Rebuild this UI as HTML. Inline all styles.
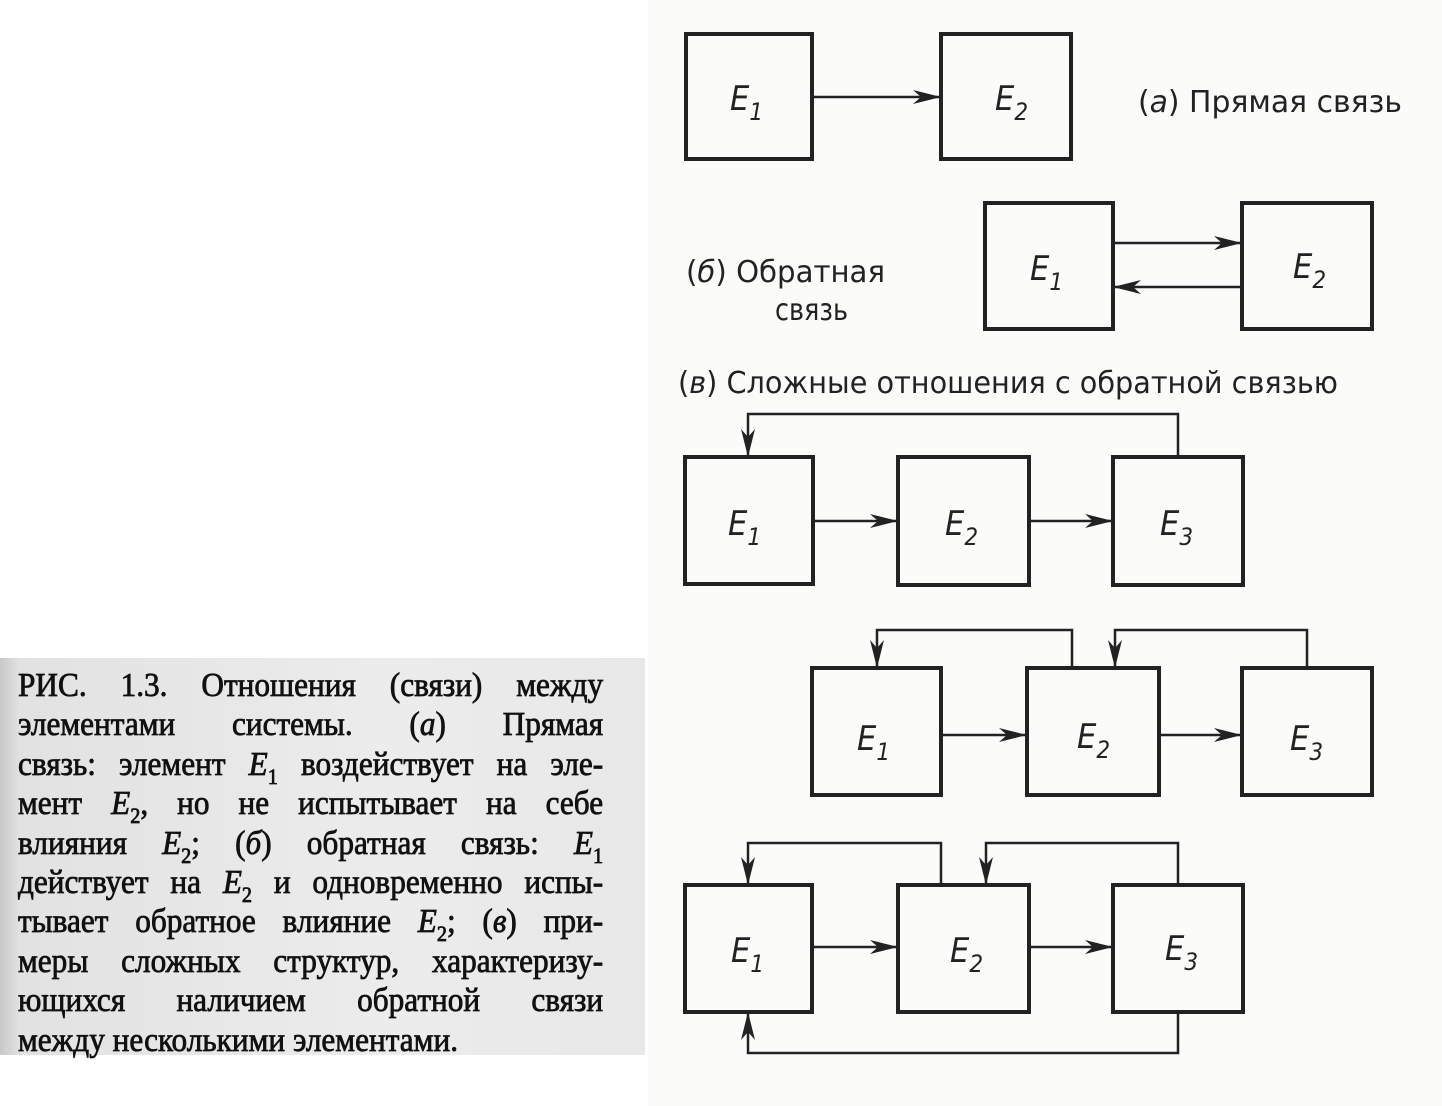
<!DOCTYPE html>
<html><head><meta charset="utf-8">
<style>
body{margin:0;width:1442px;height:1106px;background:#fbfbfa;overflow:hidden;position:relative;font-family:"Liberation Serif",serif}
.left{position:absolute;left:0;top:0;width:648px;height:1106px;background:#fff}
.cap{position:absolute;left:0;top:658px;width:645px;height:397px;background:linear-gradient(90deg,#c8c8c8 0,#e2e2e2 20px,#ececec 60%,#e8e8e8 100%)}
.txt{position:absolute;left:18px;top:8px;width:636px;transform:scaleX(0.92);transform-origin:0 0;font-size:34px;color:#111;-webkit-text-stroke:0.8px #111}
.ln{height:39.4px;line-height:39.4px;text-align:justify;text-align-last:justify;white-space:nowrap}
.ln.last{text-align-last:left}
sub{font-size:22px;vertical-align:-9px;line-height:0}
svg{position:absolute;left:0;top:0}
.l{font-family:"DejaVu Sans Condensed","DejaVu Sans",sans-serif;font-size:30px;fill:#222}
.e{font-family:"DejaVu Sans Condensed","DejaVu Sans",sans-serif;font-style:italic;font-size:34px;fill:#222}
.s{font-family:"DejaVu Sans Condensed","DejaVu Sans",sans-serif;font-size:24px;fill:#222}
</style></head><body>
<div class="left"></div>
<div class="cap"><div class="txt">
<div class="ln">РИС. 1.3. Отношения (связи) между</div>
<div class="ln">элементами системы. (<i>а</i>) Прямая</div>
<div class="ln">связь: элемент <i>E</i><sub>1</sub> воздействует на эле-</div>
<div class="ln">мент <i>E</i><sub>2</sub>, но не испытывает на себе</div>
<div class="ln">влияния <i>E</i><sub>2</sub>; (<i>б</i>) обратная связь: <i>E</i><sub>1</sub></div>
<div class="ln">действует на <i>E</i><sub>2</sub> и одновременно испы-</div>
<div class="ln">тывает обратное влияние <i>E</i><sub>2</sub>; (<i>в</i>) при-</div>
<div class="ln">меры сложных структур, характеризу-</div>
<div class="ln">ющихся наличием обратной связи</div>
<div class="ln last">между несколькими элементами.</div>
</div></div>
<svg width="1442" height="1106" viewBox="0 0 1442 1106">
<defs><marker id="a" markerWidth="30" markerHeight="14" refX="28" refY="7" orient="auto" markerUnits="userSpaceOnUse"><path d="M0,0 L28,7 L0,14 L8,7 Z" fill="#222"/></marker></defs>
<g fill="none" stroke="#222" stroke-width="4">
<rect x="686" y="34" width="126" height="125"/><rect x="941" y="34" width="130" height="125"/>
<rect x="985" y="203" width="128" height="126"/><rect x="1242" y="203" width="130" height="126"/>
<rect x="685" y="457" width="128" height="127"/><rect x="898" y="457" width="131" height="128"/><rect x="1113" y="457" width="130" height="128"/>
<rect x="812" y="668" width="129" height="127"/><rect x="1027" y="668" width="132" height="127"/><rect x="1242" y="668" width="130" height="127"/>
<rect x="685" y="885" width="127" height="127"/><rect x="898" y="885" width="131" height="127"/><rect x="1113" y="885" width="130" height="127"/>
</g>
<g fill="none" stroke="#222" stroke-width="2.5" marker-end="url(#a)">
<path d="M812,97 H941"/>
<path d="M1113,243 H1242"/><path d="M1242,287 H1113"/>
<path d="M813,521 H898"/><path d="M1029,521 H1113"/>
<path d="M1178,457 V414 H748 V457"/>
<path d="M941,735 H1027"/><path d="M1159,735 H1242"/>
<path d="M1072,668 V630 H877 V668"/><path d="M1307,668 V630 H1115 V668"/>
<path d="M812,947 H898"/><path d="M1029,947 H1113"/>
<path d="M941,885 V843 H748 V885"/><path d="M1178,885 V843 H986 V885"/>
<path d="M1178,1012 V1053 H748 V1012"/>
</g>
<text class="l" x="1138" y="112" textLength="264" lengthAdjust="spacingAndGlyphs">(<tspan font-style="italic">а</tspan>) Прямая связь</text>
<text class="l" x="686" y="282" textLength="199" lengthAdjust="spacingAndGlyphs">(<tspan font-style="italic">б</tspan>) Обратная</text>
<text class="l" x="775" y="320" textLength="73" lengthAdjust="spacingAndGlyphs">связь</text>
<text class="l" x="678" y="393" textLength="660" lengthAdjust="spacingAndGlyphs">(<tspan font-style="italic">в</tspan>) Сложные отношения с обратной связью</text>
<g>
<text class="e" x="730" y="110">E<tspan class="s" dy="10">1</tspan></text>
<text class="e" x="995" y="110">E<tspan class="s" dy="10">2</tspan></text>
<text class="e" x="1030" y="280">E<tspan class="s" dy="10">1</tspan></text>
<text class="e" x="1293" y="278">E<tspan class="s" dy="10">2</tspan></text>
<text class="e" x="728" y="535">E<tspan class="s" dy="10">1</tspan></text>
<text class="e" x="945" y="535">E<tspan class="s" dy="10">2</tspan></text>
<text class="e" x="1160" y="535">E<tspan class="s" dy="10">3</tspan></text>
<text class="e" x="857" y="750">E<tspan class="s" dy="10">1</tspan></text>
<text class="e" x="1077" y="748">E<tspan class="s" dy="10">2</tspan></text>
<text class="e" x="1290" y="750">E<tspan class="s" dy="10">3</tspan></text>
<text class="e" x="731" y="962">E<tspan class="s" dy="10">1</tspan></text>
<text class="e" x="950" y="962">E<tspan class="s" dy="10">2</tspan></text>
<text class="e" x="1165" y="960">E<tspan class="s" dy="10">3</tspan></text>
</g>
</svg>
</body></html>
